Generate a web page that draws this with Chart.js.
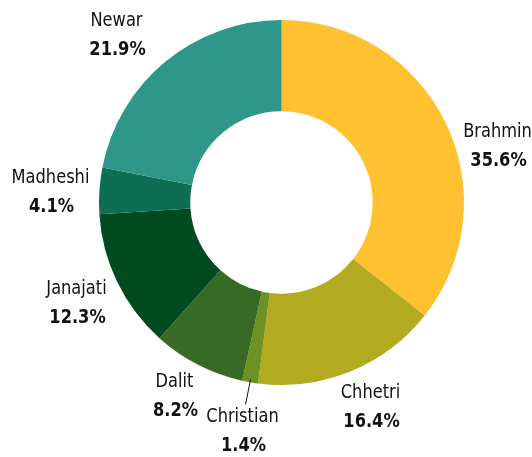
<!DOCTYPE html>
<html lang="en">
<head>
<meta charset="UTF-8"/>
<title>Doughnut</title>
<script src="https://cdn.jsdelivr.net/npm/chart.js@4.4.7/dist/chart.umd.min.js"></script>
<style>
*{margin:0;padding:0;box-sizing:border-box}
body{background:#fff;width:532px;height:457px;overflow:hidden}
.wrap{position:relative;width:532px;height:457px}
</style>
</head>
<body>
<div class="wrap"><canvas id="chart"></canvas></div>
<script>
const groups  = ['Brahmin', 'Chhetri', 'Christian', 'Dalit', 'Janajati', 'Madheshi', 'Newar'];
const shares  = [35.6, 16.4, 1.4, 8.2, 12.3, 4.1, 21.9];
const colours = ['#ffc12f', '#b2aa1f', '#6e9123', '#376b23', '#004a20', '#0e6e52', '#2f968a'];

// label centres relative to the doughnut centre (name line), tuned by eye
const labelPos = [[216, -71], [89, 190], [-39, 214], [-107, 179], [-205, 86], [-231, -25], [-165, -182]];
const FONT = '"DejaVu Sans Condensed","Liberation Sans Narrow",sans-serif';

// narrow the text a bit, the original face is a condensed one
function squeezedText(ctx, txt, x, y) {
  ctx.save();
  ctx.translate(x, y);
  ctx.scale(0.95, 1);
  ctx.fillText(txt, 0, 0);
  ctx.restore();
}

const labelPlugin = {
  id: 'outsideLabels',
  afterDraw(chart) {
    const ctx = chart.ctx;
    const meta = chart.getDatasetMeta(0);
    ctx.save();
    ctx.textAlign = 'center';
    ctx.textBaseline = 'middle';
    ctx.fillStyle = '#111';
    meta.data.forEach((arc, i) => {
      const cx = arc.x + labelPos[i][0];
      const cy = arc.y + labelPos[i][1] + 1;
      ctx.font = '400 19px ' + FONT;
      squeezedText(ctx, groups[i], cx, cy);
      ctx.font = '700 19px ' + FONT;
      squeezedText(ctx, shares[i].toFixed(1) + '%', cx + 1, cy + 29);
      if (groups[i] === 'Christian') {
        // short leader line from the thin slice down to its label
        const mid = (arc.startAngle + arc.endAngle) / 2;
        const r = arc.outerRadius - 3;
        ctx.strokeStyle = '#111';
        ctx.lineWidth = 1;
        ctx.beginPath();
        ctx.moveTo(arc.x + Math.cos(mid) * r, arc.y + Math.sin(mid) * r);
        ctx.lineTo(cx + 3, cy - 13);
        ctx.stroke();
      }
    });
    ctx.restore();
  }
};

new Chart(document.getElementById('chart'), {
  type: 'doughnut',
  data: {
    labels: groups,
    datasets: [{
      data: shares,
      backgroundColor: colours,
      borderWidth: 0,
    }]
  },
  options: {
    responsive: true,
    maintainAspectRatio: false,
    animation: false,
    cutout: '50%',
    layout: { padding: { top: 20, bottom: 72, left: 99, right: 68 } },
    plugins: { legend: { display: false }, tooltip: { enabled: false } }
  },
  plugins: [labelPlugin]
});
</script>
</body>
</html>
